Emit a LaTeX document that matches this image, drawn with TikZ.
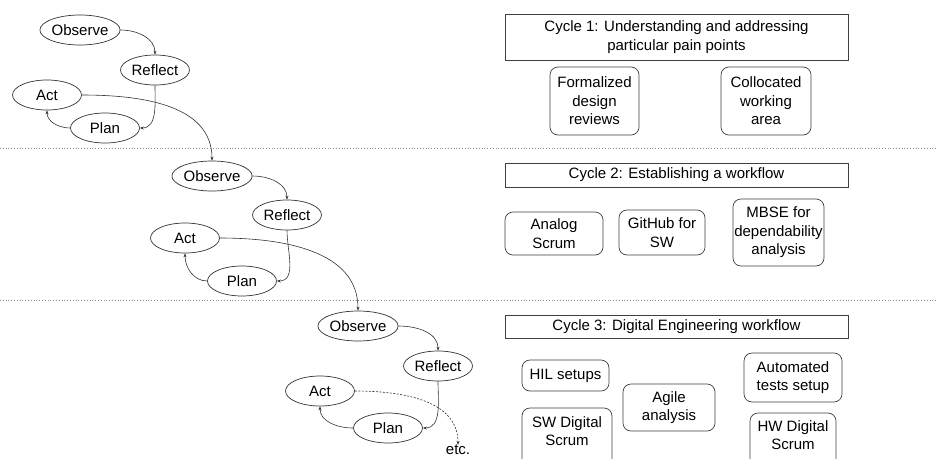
\documentclass[tikz,border=0pt]{standalone}
\usepackage{fontspec}
\setmainfont{Liberation Sans}
\usetikzlibrary{shapes.geometric,arrows.meta}
\begin{document}
\begin{tikzpicture}[x=1pt,y=-1pt,
  every node/.style={font=\fontsize{15}{18.5}\selectfont, inner sep=0pt, align=center},
  ell/.style={ellipse, draw=black!80, line width=0.7pt, minimum width=69pt, minimum height=30pt},
  titlebox/.style={rectangle, draw=black!75, line width=0.7pt, minimum width=343pt},
  item/.style={rectangle, rounded corners=8pt, draw=black!75, line width=0.7pt},
  conn/.style={draw=black!80, line width=0.6pt, -{Stealth[length=4pt,width=3pt]}},
  sep/.style={draw=black!45, line width=0.8pt, dotted}
]
\useasboundingbox (0,0) rectangle (936,458);
\clip (0,0) rectangle (936,458);
\fill[white] (0,0) rectangle (936,458);

% separators
\coordinate (s1l) at (0,148); \coordinate (s1r) at (936,148);
\coordinate (s2l) at (0,300); \coordinate (s2r) at (936,300);
\draw[sep] (s1l) -- (s1r);
\draw[sep] (s2l) -- (s2r);

% cycle 1 loop
\node[ell] (o1) at (80,30) {Observe};
\node[ell] (r1) at (155,70) {Reflect};
\node[ell] (a1) at (47,95) {Act};
\node[ell] (p1) at (105,128) {Plan};
% cycle 2 loop
\node[ell] (o2) at (212,176) {Observe};
\node[ell] (r2) at (287,215) {Reflect};
\node[ell] (a2) at (185,238) {Act};
\node[ell] (p2) at (242,281) {Plan};
% cycle 3 loop
\node[ell] (o3) at (358,326) {Observe};
\node[ell] (r3) at (438,366) {Reflect};
\node[ell] (a3) at (320,391) {Act};
\node[ell] (p3) at (388,428) {Plan};
\node (etc) at (458,450) {etc.};

\draw[conn] (o1.east) to[out=0,in=90] (r1.north);
\draw[conn] (r1.south) to[out=-90,in=0] (p1.east);
\draw[conn] (p1.west) to[out=180,in=-90] (a1.south);
\draw[conn] (a1.east) to[out=0,in=90] (o2.north);

\draw[conn] (o2.east) to[out=0,in=90] (r2.north);
\draw[conn] (r2.south) to[out=-90,in=0] (p2.east);
\draw[conn] (p2.west) to[out=180,in=-90] (a2.south);
\draw[conn] (a2.east) to[out=0,in=90] (o3.north);

\draw[conn] (o3.east) to[out=0,in=90] (r3.north);
\draw[conn] (r3.south) to[out=-90,in=0] (p3.east);
\draw[conn] (p3.west) to[out=180,in=-90] (a3.south);
\draw[conn, dashed, dash pattern=on 2pt off 1.5pt] (a3.east) to[out=0,in=90] (etc.north);

% right side, cycle 1
\node[titlebox, minimum height=46pt] (c1) at (676.5,37) {Cycle 1: Understanding and addressing\\particular pain points};
\node[item, minimum width=89pt, minimum height=68pt] (fdr) at (594.5,101) {Formalized\\design\\reviews};
\node[item, minimum width=90pt, minimum height=68pt] (cwa) at (766,101) {Collocated\\working\\area};

% cycle 2
\node[titlebox, minimum height=24pt] (c2) at (676.5,175) {Cycle 2: Establishing a workflow};
\node[item, minimum width=98pt, minimum height=43pt] (as) at (554,233.5) {Analog\\Scrum};
\node[item, minimum width=86pt, minimum height=45pt] (gh) at (662,232.5) {GitHub for\\SW};
\node[item, minimum width=91pt, minimum height=67pt] (mbse) at (778.5,232.5) {MBSE for\\dependability\\analysis};

% cycle 3
\node[titlebox, minimum height=23pt] (c3) at (676.5,326.5) {Cycle 3: Digital Engineering workflow};
\node[item, minimum width=87pt, minimum height=31pt] (hil) at (565.5,375.5) {HIL setups};
\node[item, minimum width=92pt, minimum height=47pt] (agile) at (669,407.5) {Agile\\analysis};
\node[item, minimum width=98pt, minimum height=49pt] (ats) at (793,377.5) {Automated\\tests setup};
\node[item, minimum width=90pt, minimum height=64pt] (swbox) at (567,440) {};
\node (swds) at (567,431) {SW Digital\\Scrum};
\node[item, minimum width=86pt, minimum height=60pt] (hwbox) at (793,443) {};
\node (hwds) at (793,435) {HW Digital\\Scrum};
\end{tikzpicture}
\end{document}
